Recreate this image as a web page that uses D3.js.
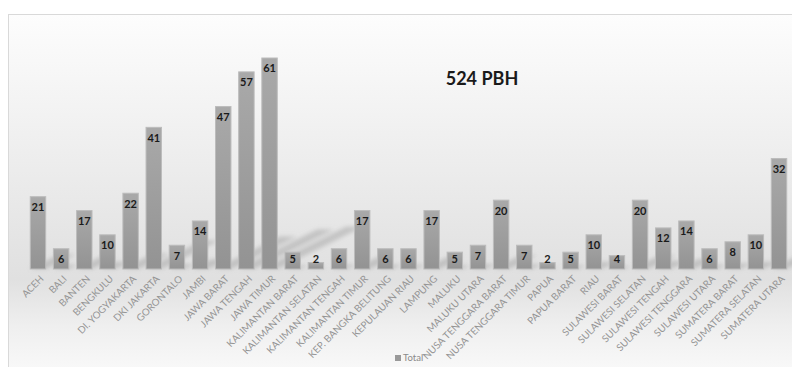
<!DOCTYPE html>
<html><head><meta charset="utf-8">
<script src="https://cdn.jsdelivr.net/npm/d3@7"></script>
<style>html,body{margin:0;padding:0;background:#fff;}svg{display:block;}</style>
</head><body><div id="chart"></div>
<script>
const categories = ["ACEH","BALI","BANTEN","BENGKULU","DI. YOGYAKARTA","DKI JAKARTA","GORONTALO","JAMBI","JAWA BARAT","JAWA TENGAH","JAWA TIMUR","KALIMANTAN BARAT","KALIMANTAN SELATAN","KALIMANTAN TENGAH","KALIMANTAN TIMUR","KEP. BANGKA BELITUNG","KEPULAUAN RIAU","LAMPUNG","MALUKU","MALUKU UTARA","NUSA TENGGARA BARAT","NUSA TENGGARA TIMUR","PAPUA","PAPUA BARAT","RIAU","SULAWESI BARAT","SULAWESI SELATAN","SULAWESI TENGAH","SULAWESI TENGGARA","SULAWESI UTARA","SUMATERA BARAT","SUMATERA SELATAN","SUMATERA UTARA"];
const totals = [21,6,17,10,22,41,7,14,47,57,61,5,2,6,17,6,6,17,5,7,20,7,2,5,10,4,20,12,14,6,8,10,32];
const title = "524 PBH";
const seriesName = "Total";

const W = 792, H = 367;
const svg = d3.select("#chart").append("svg").attr("width", W).attr("height", H);
const defs = svg.append("defs");

const bg = defs.append("linearGradient").attr("id","bg").attr("x1",0).attr("y1",0).attr("x2",0).attr("y2",1);
[[0,"#fdfdfd"],[0.3,"#f1f1f1"],[0.72,"#e0e0e0"],[0.85,"#efefef"],[1,"#fbfbfb"]].forEach(s=>bg.append("stop").attr("offset",s[0]).attr("stop-color",s[1]));
const bg2 = defs.append("linearGradient").attr("id","bar").attr("x1",0).attr("y1",0).attr("x2",0).attr("y2",1);
[[0,"#a9a9a9"],[1,"#939393"]].forEach(s=>bg2.append("stop").attr("offset",s[0]).attr("stop-color",s[1]));
defs.append("filter").attr("id","blur").attr("x","-50%").attr("y","-50%").attr("width","200%").attr("height","200%")
  .append("feGaussianBlur").attr("stdDeviation",2);

// chart area
svg.append("rect").attr("x",8.5).attr("y",14.5).attr("width",W).attr("height",H)
  .attr("fill","url(#bg)").attr("stroke","#d9d9d9").attr("stroke-width",1);

const base = 269;
const x = d3.scaleBand().domain(categories).range([26.4, 790.6]).paddingInner(0.29).paddingOuter(0.145);
const y = d3.scaleLinear().domain([0, 61]).range([base, 57.5]);

// shadows
svg.append("g").attr("filter","url(#blur)").selectAll("path").data(categories).join("path")
  .attr("d",(c,i)=>{
    const x0 = x(c), x1 = x(c)+x.bandwidth(), h = base - y(totals[i]);
    const dx = h*0.4, dy = h*0.2;
    return `M${x0},${base}L${x1},${base}L${x1+dx},${base-dy}L${x0+dx},${base-dy}Z`;
  })
  .attr("fill","#999").attr("opacity",0.45);

// bars
svg.append("g").selectAll("rect").data(categories).join("rect")
  .attr("x",c=>x(c)+0.5).attr("width",x.bandwidth()-1)
  .attr("y",(c,i)=>y(totals[i])+0.5).attr("height",(c,i)=>base-y(totals[i])-0.5)
  .attr("fill","url(#bar)").attr("stroke","#bcbcbc").attr("stroke-width",1);

// value labels
svg.append("g").selectAll("text").data(categories).join("text")
  .attr("x",c=>x(c)+x.bandwidth()/2)
  .attr("y",(c,i)=>Math.min(y(totals[i])+11, base-10))
  .attr("dy","0.35em").attr("text-anchor","middle")
  .attr("font-family","Lato, 'Open Sans', sans-serif").attr("font-weight","bold").attr("font-size",11)
  .attr("fill","#1a1a1a").text((c,i)=>totals[i]);

// x axis labels
const xAxis = d3.axisBottom(x).tickSize(0).tickPadding(0);
const gx = svg.append("g").attr("transform",`translate(0,${base})`).call(xAxis);
gx.select(".domain").remove();
gx.selectAll("text")
  .attr("font-family","Lato, 'Open Sans', sans-serif").attr("font-size",9.8).attr("fill","#959595")
  .attr("text-anchor","end").attr("dy","0.35em")
  .attr("transform","translate(4,8) rotate(-45)");

// title
svg.append("text").attr("x",482).attr("y",79).attr("dy","0.35em").attr("text-anchor","middle")
  .attr("font-family","Lato, 'Open Sans', sans-serif").attr("font-weight","bold").attr("font-size",18)
  .attr("fill","#1a1a1a").text(title);

// legend
const lg = svg.append("g").attr("transform","translate(395,358)");
lg.append("rect").attr("x",0).attr("y",-3).attr("width",6).attr("height",6).attr("fill","#999");
lg.append("text").attr("x",8).attr("y",0).attr("dy","0.35em")
  .attr("font-family","Lato, 'Open Sans', sans-serif").attr("font-size",9.5).attr("fill","#8a8a8a").text(seriesName);
</script></body></html>
